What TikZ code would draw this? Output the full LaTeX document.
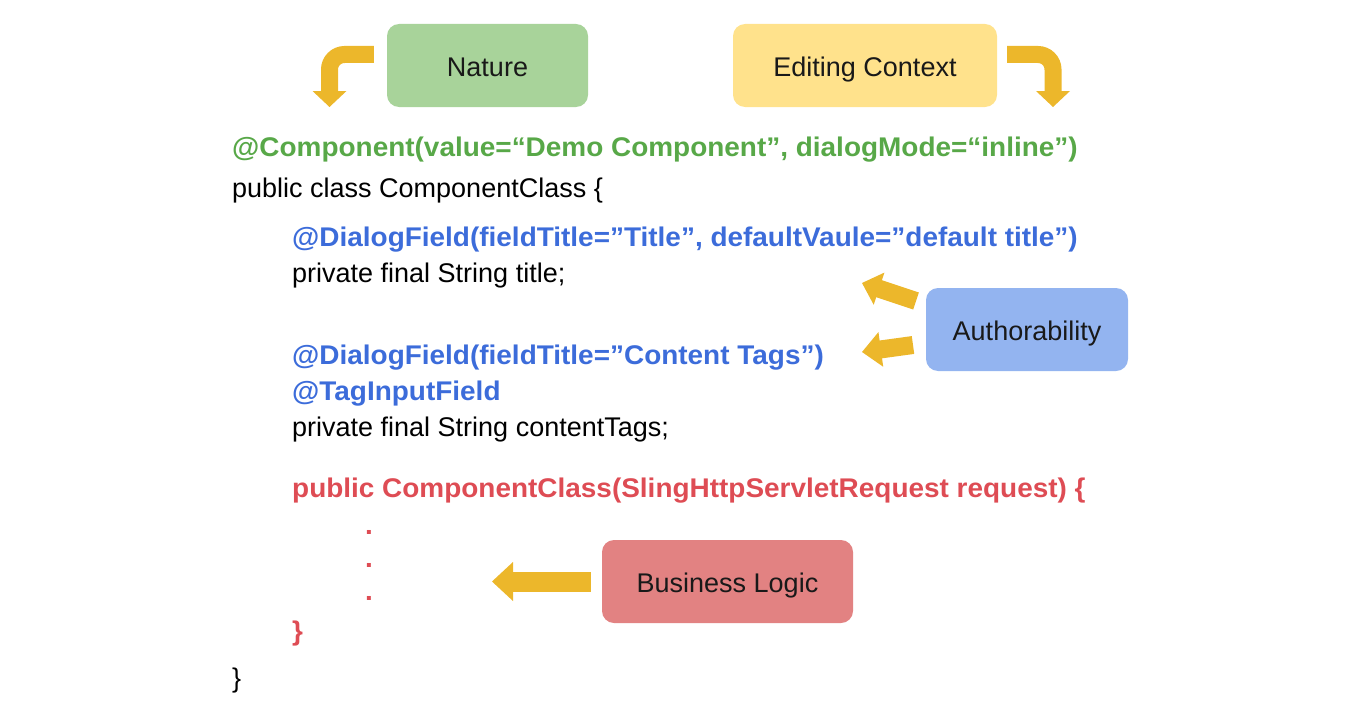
\documentclass[tikz,border=0pt]{standalone}
\usepackage{fontspec}
\setmainfont{Liberation Sans}[BoldFeatures={FakeStretch=1.035}]
\usetikzlibrary{calc}
\definecolor{codegreen}{RGB}{88,168,72}
\definecolor{codeblue}{RGB}{60,108,218}
\definecolor{codered}{RGB}{222,76,84}
\definecolor{natfill}{RGB}{168,211,154}
\definecolor{edcfill}{RGB}{255,226,140}
\definecolor{authfill}{RGB}{147,180,240}
\definecolor{bizfill}{RGB}{226,130,130}
\definecolor{arrowc}{RGB}{236,183,43}
\tikzset{
  codeline/.style={anchor=base west, inner sep=0pt, font=\fontsize{27}{32}\selectfont},
  labelbox/.style={rounded corners=12pt, inner sep=0pt, font=\fontsize{27}{32}\selectfont, text=black!90},
  labeltext/.style={inner sep=0pt, text height=19.4pt, text depth=0pt, font=\fontsize{27}{32}\selectfont, text=black!90},
  band/.style={draw=arrowc, line width=#1},
  headfill/.style={fill=arrowc, draw=none}
}
\begin{document}
\begin{tikzpicture}[x=1pt,y=-1pt]
\useasboundingbox (0,0) rectangle (1351,725);
% label boxes
\node[labelbox, fill=natfill, minimum width=201pt, minimum height=83pt] (nat) at (487.5,65.5) {};
\node[labeltext] (natl) at ($(nat.center)+(0,1.5)$) {Nature};
\node[labelbox, fill=edcfill, minimum width=264pt, minimum height=83pt] (edc) at (865,65.5) {};
\node[labeltext] (edcl) at ($(edc.center)+(0,1.5)$) {Editing Context};
\node[labelbox, fill=authfill, minimum width=202pt, minimum height=83pt] (auth) at (1027,329.5) {};
\node[labeltext] (authl) at ($(auth.center)+(0,1.5)$) {Authorability};
\node[labelbox, fill=bizfill, minimum width=251pt, minimum height=83pt] (biz) at (727.5,581.5) {};
\node[labeltext] (bizl) at ($(biz.center)+(0,1.5)$) {Business Logic};
% code
\node[codeline, text=codegreen] (l1) at (232,156) {\bfseries @Component(value=“Demo Component”, dialogMode=“inline”)};
\node[codeline] (l2) at (232,197) {public class ComponentClass \{};
\node[codeline, text=codeblue] (l3) at (292,246) {\bfseries @DialogField(fieldTitle=”Title”, defaultVaule=”default title”)};
\node[codeline] (l4) at (292,282) {private final String title;};
\node[codeline, text=codeblue] (l5) at (292,364) {\bfseries @DialogField(fieldTitle=”Content Tags”)};
\node[codeline, text=codeblue] (l6) at (292,400) {\bfseries @TagInputField};
\node[codeline] (l7) at (292,436) {private final String contentTags;};
\node[codeline, text=codered] (l8) at (292,497) {\bfseries public ComponentClass(SlingHttpServletRequest request) \{};
\node[codeline, text=codered] (d1) at (365,534) {\bfseries .};
\node[codeline, text=codered] (d2) at (365,567) {\bfseries .};
\node[codeline, text=codered] (d3) at (365,600) {\bfseries .};
\node[codeline, text=codered] (l9) at (292,640) {\bfseries \}};
\node[codeline] (l10) at (232,687) {\}};
% Nature arrow (curved, pointing down)
\coordinate (na0) at ($(nat.west)+(-13,-11)$);
\coordinate (na1) at (329.5,54.5);
\coordinate (na2) at (329.5,92);
\coordinate (natip) at (329.5,107);
\draw[band=17pt, rounded corners=15pt] (na0) -- (na1) -- (na2);
\fill[headfill] (natip) -- ($(na2)+(17,-1)$) -- ($(na2)+(-17,-1)$) -- cycle;
% Editing Context arrow (curved, pointing down)
\coordinate (ea0) at ($(edc.east)+(10,-11)$);
\coordinate (ea1) at (1053,54.5);
\coordinate (ea2) at (1053,92);
\coordinate (eatip) at (1053,107);
\draw[band=17pt, rounded corners=15pt] (ea0) -- (ea1) -- (ea2);
\fill[headfill] (eatip) -- ($(ea2)+(17,-1)$) -- ($(ea2)+(-17,-1)$) -- cycle;
% Authorability arrows
\coordinate (at1) at (916,301);
\coordinate (ap1) at (862,283);
\coordinate (ah1) at ($(ap1)!18pt!(at1)$);
\draw[band=18pt] (at1) -- ($(ap1)!17pt!(at1)$);
\fill[headfill] (ap1) -- ($(ah1)!17pt!90:(ap1)$) -- ($(ah1)!17pt!-90:(ap1)$) -- cycle;
\coordinate (at2) at (913,345);
\coordinate (ap2) at (862,352);
\coordinate (ah2) at ($(ap2)!19pt!(at2)$);
\draw[band=18pt] (at2) -- ($(ap2)!18pt!(at2)$);
\fill[headfill] (ap2) -- ($(ah2)!17.5pt!90:(ap2)$) -- ($(ah2)!17.5pt!-90:(ap2)$) -- cycle;
% Business Logic arrow
\coordinate (bt) at ($(biz.west)+(-11,0)$);
\coordinate (bp) at (492,581.5);
\coordinate (bh) at ($(bp)!21pt!(bt)$);
\draw[band=20pt] (bt) -- ($(bp)!20pt!(bt)$);
\fill[headfill] (bp) -- ($(bh)!19.5pt!90:(bp)$) -- ($(bh)!19.5pt!-90:(bp)$) -- cycle;
\end{tikzpicture}
\end{document}
